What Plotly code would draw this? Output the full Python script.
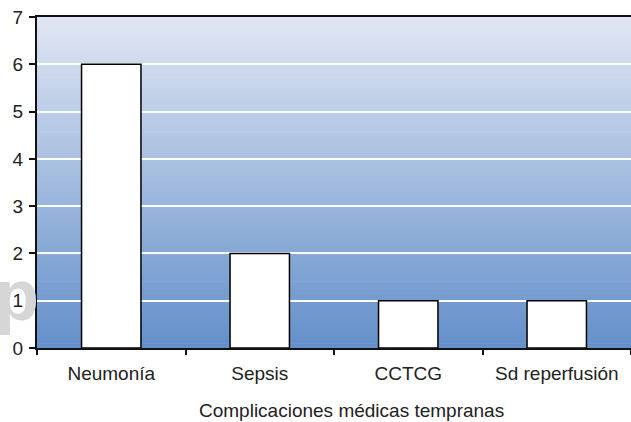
import plotly.graph_objects as go

categories = ["Neumonía", "Sepsis", "CCTCG", "Sd reperfusión"]
values = [6, 2, 1, 1]
y_ticks = [0, 1, 2, 3, 4, 5, 6, 7]
x_title = "Complicaciones médicas tempranas"

fig = go.Figure()
fig.add_trace(go.Bar(
    x=categories, y=values, width=0.4,
    marker=dict(color="white", line=dict(color="black", width=1.5)),
    hoverinfo="skip",
))

# vertical gradient background
top = (224, 230, 243)
bot = (100, 144, 202)
n = 80
shapes = []
for i in range(n):
    t = i / (n - 1)
    c = tuple(round(top[k] + (bot[k] - top[k]) * t) for k in range(3))
    shapes.append(dict(type="rect", xref="paper", yref="paper",
                       x0=0, x1=1, y0=1 - (i + 1) / n, y1=1 - i / n + 0.002,
                       fillcolor="rgb(%d,%d,%d)" % c, line=dict(width=0), layer="below"))

fig.update_layout(
    width=631, height=422,
    margin=dict(l=37, r=0, t=17, b=74, autoexpand=False),
    paper_bgcolor="white", plot_bgcolor="rgba(0,0,0,0)",
    showlegend=False, shapes=shapes,
    font=dict(family="Liberation Sans, Arial, sans-serif", color="#222", size=19),
    bargap=0.6,
)
fig.update_xaxes(
    type="category", range=[-0.5, 3.5], showgrid=False,
    showline=True, linecolor="#111", linewidth=2, mirror=True,
    ticks="outside", tickson="boundaries", ticklen=5, tickcolor="#111", tickwidth=2,
    tickfont=dict(size=19), ticklabelstandoff=7,
)
fig.update_yaxes(
    range=[0, 7], tickvals=y_ticks, showgrid=True, gridcolor="white", gridwidth=2,
    showline=True, linecolor="#111", linewidth=2, zeroline=False,
    ticks="outside", ticklen=6, tickcolor="#111", tickwidth=2,
    tickfont=dict(size=19), ticklabelstandoff=2,
)
fig.add_annotation(text=x_title, xref="paper", yref="paper", x=0.53, y=0,
                   yshift=-62, yanchor="middle", showarrow=False, font=dict(size=19))
fig.add_annotation(text="<b>p</b>", xref="paper", yref="paper", x=0, xshift=-44,
                   y=0.16, xanchor="left", yanchor="middle", showarrow=False,
                   font=dict(size=72, color="#d6d6d6", family="Liberation Sans, Arial"))
fig.write_html("out.html", config={"displayModeBar": False},
               post_script="document.body.style.margin='0';")
